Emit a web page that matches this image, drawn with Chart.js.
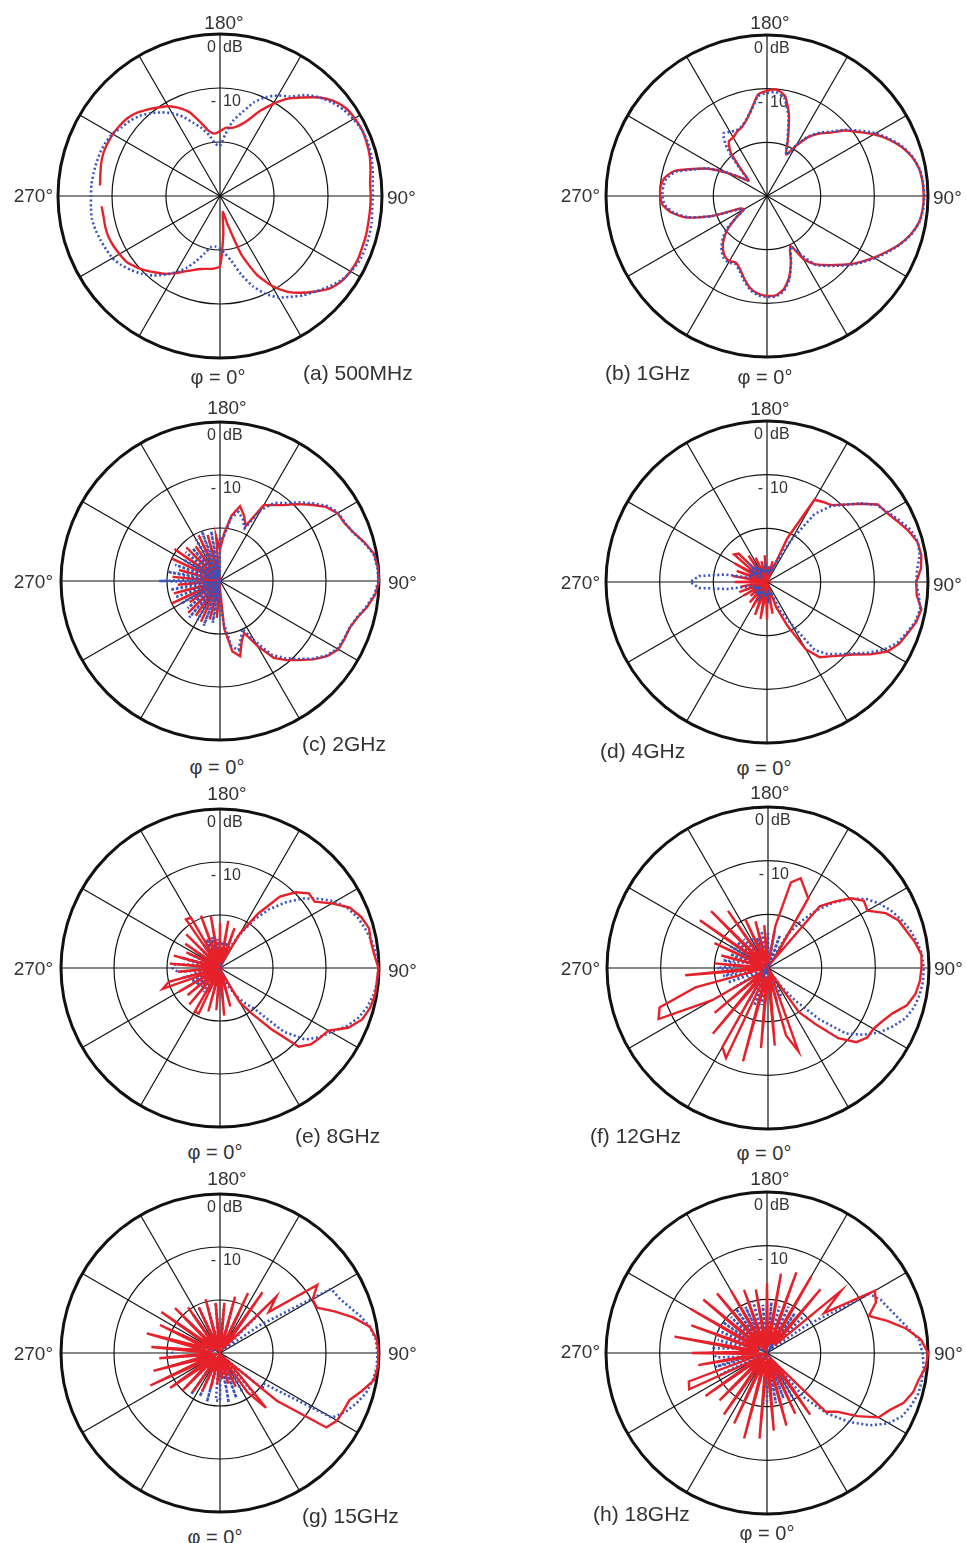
<!DOCTYPE html>
<html>
<head>
<meta charset="utf-8">
<script src="https://cdn.jsdelivr.net/npm/chart.js@4.4.1/dist/chart.umd.min.js"></script>
<style>
  body { margin: 0; background: #fff; }
  #page { position: relative; width: 966px; height: 1543px; font-family: "Liberation Sans", Arial, sans-serif; color: #333; }
  #page canvas { position: absolute; }
  .lbl { position: absolute; font-size: 19px; line-height: 1; white-space: nowrap; }
  .phi { font-size: 20px; }
  .cap { font-size: 21px; }
</style>
</head>
<body>
<div id="page"></div>
<script>
// azimuth angles (deg), 0 = bottom, counter-clockwise
const PHI = [0, 5, 10, 15, 20, 25, 30, 35, 40, 45, 50, 55,
  60, 65, 70, 75, 80, 85, 90, 95, 100, 105, 110, 115,
  120, 125, 130, 135, 140, 145, 150, 155, 160, 165, 170, 175,
  180, 185, 190, 195, 200, 205, 210, 215, 220, 225, 230, 235,
  240, 245, 250, 255, 260, 265, 270, 275, 280, 285, 290, 295,
  300, 305, 310, 315, 320, 325, 330, 335, 340, 345, 350, 355];

const RING_MIN = -30;
const RING_MAX = 0;
const RING_STEP = 10;

// gain in dB, one value per PHI entry (red solid / blue dotted)
const redA = [-17.0, -23.0, -27.0, -24.5, -18.5, -14.0, -10.8, -8.4, -6.6, -5.0, -3.4, -2.5,
  -2.1, -1.9, -2.0, -2.0, -2.1, -2.1, -2.1, -2.1, -1.7, -1.3, -1.1, -1.0,
  -1.2, -1.6, -2.6, -4.2, -6.2, -8.0, -10.3, -12.7, -15.1, -16.5, -17.2, -17.3,
  -18.0, -18.4, -17.7, -15.8, -13.5, -12.0, -10.8, -10.0, -9.1, -8.2, -7.6, -7.3,
  -7.1, -7.0, -7.0, -7.2, -7.5, -7.7, null, -8.0, -8.1, -8.0, -8.0, -8.2,
  -8.5, -8.8, -9.6, -10.5, -11.5, -12.4, -13.5, -14.6, -15.4, -16.0, -16.3, -16.5];
const blueA = [-20.2, -19.3, -17.8, -15.0, -12.2, -10.0, -8.3, -7.2, -6.0, -5.0, -3.8, -2.7,
  -2.0, -1.5, -1.4, -1.4, -1.5, -1.7, -1.7, -1.6, -1.3, -1.0, -0.9, -1.0,
  -1.5, -2.1, -3.0, -4.1, -5.6, -7.5, -8.5, -9.8, -11.5, -13.9, -15.8, -18.5,
  -20.7, -20.3, -18.6, -17.0, -15.6, -13.8, -12.3, -11.1, -10.0, -9.0, -8.3, -7.8,
  -7.0, -6.6, -6.4, -6.3, -6.2, -6.1, -6.1, -6.0, -5.9, -6.1, -6.4, -6.7,
  -7.0, -7.7, -8.6, -9.6, -10.8, -12.2, -13.7, -15.3, -17.2, -19.0, -20.4, -20.6];

const redB = [-11.4, -11.4, -12.3, -14.2, -17.0, -19.8, -16.5, -14.5, -13.2, -11.8, -10.2, -8.6,
  -7.0, -5.4, -3.7, -2.3, -1.3, -0.9, -0.8, -0.9, -1.2, -2.0, -3.3, -5.0,
  -7.0, -9.2, -11.0, -13.3, -14.8, -16.6, -19.2, -21.5, -18.5, -14.2, -11.0, -10.1,
  -10.4, -11.0, -13.5, -15.3, -16.3, -16.8, -17.4, -17.6, -19.5, -23.5, -25.5, -24.0,
  -21.4, -18.0, -15.3, -12.1, -10.6, -10.1, -10.1, -10.5, -12.0, -14.5, -19.0, -24.5,
  -25.0, -23.0, -20.5, -18.6, -17.2, -16.3, -16.0, -16.3, -15.4, -13.9, -12.5, -11.7];
const blueB = [-11.2, -11.2, -12.0, -13.9, -16.8, -19.5, -17.5, -14.4, -13.0, -11.6, -10.0, -8.4,
  -6.8, -5.2, -3.6, -2.2, -1.2, -0.8, -0.7, -0.8, -1.1, -1.9, -3.1, -4.8,
  -6.6, -8.8, -10.8, -13.0, -14.6, -16.4, -19.0, -21.5, -18.8, -14.6, -11.5, -10.6,
  -10.8, -11.3, -13.6, -15.2, -16.2, -16.5, -16.2, -15.8, -18.5, -23.0, -25.5, -24.0,
  -21.0, -17.8, -15.5, -12.5, -11.0, -10.6, -10.5, -10.9, -12.3, -14.8, -19.0, -24.0,
  -25.0, -23.0, -20.0, -18.2, -16.8, -15.9, -15.7, -16.0, -15.1, -13.6, -12.2, -11.4];

const redC = [-28.5, -21.0, -16.5, -15.3, -18.0, -19.2, -15.8, -12.3, -10.5, -8.9, -7.0, -5.3,
  -4.2, -4.1, -4.0, -3.2, -1.8, -0.6, 0.0, -0.1, -0.5, -1.8, -3.2, -4.1,
  -4.4, -5.6, -7.6, -9.5, -11.3, -12.5, -13.5, -18.5, -16.8, -15.4, -17.5, -21.0,
  -24.0, -21.5, -29.0, -21.0, -28.5, -20.5, -29.0, -22.0, -29.5, -21.0, -28.5, -19.5,
  -29.0, -20.0, -29.5, -22.0, -29.0, -21.0, -29.0, -22.0, -29.5, -21.0, -28.5, -20.0,
  -29.0, -23.0, -29.5, -21.5, -29.0, -22.0, -28.5, -21.5, -29.5, -22.5, -29.0, -23.0];
const blueC = [-26.0, -22.0, -17.5, -16.5, -18.5, -20.0, -17.0, -13.0, -11.0, -9.2, -7.2, -5.5,
  -4.4, -4.2, -4.0, -3.3, -2.0, -0.8, -0.1, -0.2, -0.6, -1.9, -3.3, -4.0,
  -4.2, -5.3, -7.2, -9.0, -10.8, -12.0, -14.5, -19.0, -17.5, -16.5, -18.0, -21.5,
  -22.0, -29.0, -20.5, -28.5, -20.0, -28.0, -21.0, -29.0, -22.0, -29.0, -21.5, -28.5,
  -22.0, -29.0, -21.0, -28.5, -20.0, -27.0, -18.5, -27.0, -20.5, -28.5, -21.0, -29.0,
  -21.5, -28.5, -22.0, -29.0, -21.0, -28.5, -21.5, -29.0, -21.0, -28.0, -22.0, -28.5];

const redD = [-23.0, -29.0, -24.0, -29.5, -25.0, -21.0, -15.5, -12.9, -11.9, -10.6, -9.0, -6.5,
  -4.1, -2.8, -2.1, -1.2, -0.8, -2.0, -2.2, -1.2, -0.8, -1.0, -2.0, -3.2,
  -4.2, -4.8, -7.3, -9.6, -11.3, -11.8, -12.3, -21.0, -29.0, -26.0, -29.5, -27.0,
  -29.0, -25.0, -29.5, -26.0, -29.0, -25.0, -29.0, -24.0, -28.5, -22.5, -22.0, -28.0,
  -23.0, -28.5, -24.0, -29.0, -23.5, -29.0, -24.0, -29.5, -25.0, -29.0, -24.5, -29.5,
  -25.0, -29.0, -26.0, -29.5, -25.0, -29.0, -24.5, -28.5, -23.5, -28.5, -23.0, -28.0];
const blueD = [-28.0, -27.0, -28.0, -27.5, -28.0, -24.0, -21.0, -14.5, -12.5, -11.0, -9.3, -7.0,
  -4.8, -3.2, -2.3, -1.4, -1.0, -1.6, -2.2, -1.9, -1.1, -0.9, -1.5, -2.8,
  -4.0, -5.0, -7.2, -9.6, -11.6, -14.5, -21.0, -26.0, -28.0, -27.0, -28.0, -27.5,
  -28.0, -27.0, -28.0, -27.5, -28.0, -27.0, -28.0, -27.0, -28.0, -26.5, -28.0, -27.0,
  -28.0, -26.5, -27.0, -27.0, -22.0, -17.3, -15.7, -17.3, -22.5, -27.0, -28.0, -27.0,
  -28.0, -27.5, -28.0, -27.0, -28.0, -27.5, -28.0, -27.0, -28.0, -27.5, -28.0, -27.0];

const redE = [-29.0, -21.0, -29.0, -22.5, -29.0, -28.5, -22.5, -19.5, -15.0, -9.0, -7.6, -7.0,
  -6.4, -3.3, -1.5, -0.7, -0.3, -0.3, -0.1, -0.8, -1.1, -0.9, -1.7, -3.0,
  -5.6, -8.2, -8.1, -9.8, -12.4, -17.5, -22.5, -28.5, -22.0, -29.0, -21.0, -29.0,
  -21.5, -29.0, -20.0, -28.5, -19.5, -29.0, -19.0, -18.8, -29.0, -21.0, -29.5, -22.0,
  -29.0, -23.0, -29.5, -21.0, -28.5, -20.5, -29.0, -22.0, -29.5, -20.0, -18.5, -29.0,
  -21.0, -29.5, -22.0, -29.0, -21.0, -29.5, -20.5, -20.5, -29.5, -21.5, -29.0, -22.0];
const blueE = [-27.5, -25.0, -29.0, -25.5, -29.0, -26.0, -24.0, -22.0, -20.0, -13.0, -9.0, -7.2,
  -5.8, -3.8, -2.3, -1.3, -0.6, -0.2, -0.1, -0.4, -0.9, -1.6, -2.3, -3.4,
  -4.9, -7.2, -9.6, -12.5, -15.5, -19.0, -23.0, -26.0, -29.0, -25.0, -29.0, -25.0,
  -29.0, -24.5, -29.0, -24.0, -29.0, -24.0, -29.0, -24.5, -29.0, -25.0, -29.0, -24.0,
  -29.0, -23.5, -28.5, -22.5, -27.0, -21.5, -21.0, -22.0, -27.0, -22.5, -28.5, -24.0,
  -29.0, -24.5, -29.0, -25.0, -29.0, -24.5, -29.0, -25.0, -29.0, -25.0, -29.0, -25.5];

const redF = [-28.5, -15.5, -28.0, -17.0, -13.5, -28.5, -29.0, -20.0, -16.5, -11.5, -8.5, -7.4,
  -7.3, -6.5, -5.3, -3.2, -2.1, -1.6, -1.4, -1.3, -2.2, -3.3, -4.1, -5.8,
  -8.6, -8.2, -9.8, -12.5, -15.0, -28.0, -15.0, -13.8, -12.2, -13.5, -22.0, -29.0,
  -29.0, -22.0, -29.0, -21.0, -28.5, -20.0, -29.0, -17.0, -28.5, -15.0, -28.0, -14.5,
  -29.0, -19.0, -29.0, -21.0, -29.5, -20.0, -28.0, -14.5, -29.0, -16.0, -8.5, -7.5,
  -18.0, -29.0, -17.0, -28.5, -14.0, -28.0, -13.0, -11.5, -28.5, -12.0, -28.0, -15.0];
const blueF = [-29.0, -24.0, -29.0, -23.5, -29.0, -24.0, -29.0, -26.0, -22.0, -16.5, -11.0, -8.3,
  -6.0, -4.3, -2.7, -1.8, -1.3, -1.0, -1.0, -1.2, -1.8, -2.6, -3.6, -4.7,
  -6.0, -7.6, -9.9, -12.8, -16.0, -19.5, -23.0, -29.0, -23.5, -29.0, -23.0, -29.0,
  -23.5, -29.0, -23.0, -29.0, -24.0, -29.0, -23.5, -29.0, -23.0, -29.0, -22.5, -28.5,
  -22.0, -28.0, -22.5, -27.0, -21.5, -25.0, -20.5, -25.0, -21.5, -27.0, -22.0, -28.5,
  -22.5, -29.0, -23.0, -29.0, -22.5, -29.0, -23.0, -29.0, -22.5, -29.0, -23.0, -29.0];

const redG = [-29.0, -25.0, -29.0, -24.0, -29.0, -23.0, -29.0, -21.0, -16.5, -28.0, -16.0, -5.5,
  -4.5, -4.3, -4.0, -2.3, -0.5, -0.1, -0.1, -0.3, -1.3, -4.0, -7.0, -9.8,
  -9.8, -7.6, -18.0, -15.0, -28.0, -16.0, -28.5, -17.5, -29.0, -19.0, -29.0, -20.5,
  -29.0, -20.5, -29.0, -19.5, -28.5, -20.5, -29.0, -19.5, -28.5, -18.0, -28.0, -16.5,
  -28.5, -17.5, -27.0, -15.7, -27.0, -17.0, -28.5, -18.5, -28.0, -17.0, -27.5, -15.5,
  -28.0, -18.5, -27.0, -20.0, -29.0, -21.0, -29.0, -22.0, -29.0, -23.0, -29.0, -24.0];
const blueG = [-21.0, -29.0, -20.5, -29.0, -21.0, -29.0, -21.5, -28.5, -19.5, -28.0, -19.5, -20.0,
  -5.6, -3.8, -2.5, -1.4, -0.7, -0.3, -0.3, -0.5, -1.3, -2.7, -4.2, -5.3,
  -5.8, -21.0, -29.0, -19.5, -29.0, -21.0, -29.0, -21.5, -29.0, -20.5, -29.0, -21.0,
  -29.0, -20.5, -29.0, -21.0, -29.0, -20.5, -29.0, -21.0, -29.0, -20.5, -29.0, -20.5,
  -29.0, -21.0, -29.0, -20.0, -28.5, -20.5, -21.0, -20.5, -28.5, -20.5, -29.0, -21.0,
  -29.0, -20.5, -29.0, -21.0, -29.0, -20.5, -29.0, -21.0, -29.0, -20.5, -29.0, -21.0];

const redH = [-28.0, -15.5, -28.0, -16.0, -28.5, -17.5, -28.0, -16.0, -27.5, -14.5, -13.0, -9.5,
  -6.0, -4.8, -2.9, -1.8, -1.3, -0.3, 0.0, -1.2, -3.7, -6.8, -9.8, -7.6,
  -6.8, -17.0, -12.0, -28.0, -14.5, -28.0, -13.5, -28.0, -14.0, -28.5, -15.0, -28.0,
  -17.0, -28.0, -18.0, -28.5, -17.5, -28.0, -16.5, -28.0, -15.5, -28.0, -14.5, -28.0,
  -13.5, -28.0, -15.0, -28.5, -12.5, -27.0, -16.0, -28.0, -17.0, -28.0, -14.5, -14.0,
  -28.0, -16.0, -28.5, -17.5, -28.0, -16.0, -28.5, -15.5, -28.0, -13.5, -28.5, -14.0];
const blueH = [-21.0, -29.0, -20.5, -28.5, -21.0, -29.0, -20.0, -28.5, -19.0, -14.0, -10.0, -6.5,
  -3.8, -2.2, -1.4, -0.8, -0.7, -0.7, -1.0, -1.6, -3.3, -4.7, -5.8, -6.6,
  -8.0, -21.0, -29.0, -20.0, -28.5, -21.0, -29.0, -20.5, -28.5, -21.0, -29.0, -20.5,
  -29.0, -21.0, -29.0, -20.0, -28.5, -20.5, -29.0, -20.0, -28.5, -20.5, -29.0, -20.0,
  -28.0, -20.0, -27.5, -20.5, -25.0, -20.0, -20.0, -20.5, -26.0, -20.0, -28.0, -20.5,
  -28.5, -20.0, -29.0, -20.5, -29.0, -20.0, -28.5, -20.5, -29.0, -21.0, -29.0, -20.5];

const CAPTIONS = ['(a) 500MHz', '(b) 1GHz', '(c) 2GHz', '(d) 4GHz',
  '(e) 8GHz', '(f) 12GHz', '(g) 15GHz', '(h) 18GHz'];

// layout of each panel on the page (centre, radius, text anchors)
const panels = [
  { red: redA, blue: blueA, tension: 0.2, redOnTop: false, cx: 220, cy: 196, R: 162, t180: [224, 22], t90: [387, 197], t270: [53, 195], phi: [218, 377], cap: [303, 372] },
  { red: redB, blue: blueB, tension: 0.2, redOnTop: false, cx: 767, cy: 196, R: 161, t180: [770, 22], t90: [933, 197], t270: [600, 195], phi: [765, 377], cap: [605, 372] },
  { red: redC, blue: blueC, tension: 0, redOnTop: false, cx: 220, cy: 581, R: 159, t180: [227, 407], t90: [388, 582], t270: [53, 581], phi: [217, 767], cap: [302, 743] },
  { red: redD, blue: blueD, tension: 0, redOnTop: false, cx: 767, cy: 582, R: 161, t180: [770, 408], t90: [933, 584], t270: [600, 582], phi: [764, 768], cap: [600, 750] },
  { red: redE, blue: blueE, tension: 0, redOnTop: true, cx: 220, cy: 968, R: 159, t180: [227, 793], t90: [388, 970], t270: [53, 968], phi: [215, 1152], cap: [295, 1135] },
  { red: redF, blue: blueF, tension: 0, redOnTop: true, cx: 768, cy: 968, R: 161, t180: [770, 792], t90: [934, 968], t270: [600, 968], phi: [764, 1153], cap: [590, 1135] },
  { red: redG, blue: blueG, tension: 0, redOnTop: true, cx: 220, cy: 1353, R: 159, t180: [227, 1178], t90: [388, 1353], t270: [53, 1353], phi: [215, 1537], cap: [302, 1515] },
  { red: redH, blue: blueH, tension: 0, redOnTop: true, cx: 767, cy: 1353, R: 161, t180: [770, 1178], t90: [934, 1353], t270: [600, 1351], phi: [767, 1533], cap: [593, 1513] },
];

const page = document.getElementById('page');

// radar goes clockwise from the top, so start at 180 deg and walk downwards
const chartPhi = PHI.map((_, k) => PHI[(36 - k + 72) % 72]);
const toChart = series => chartPhi.map(p => series[PHI.indexOf(p)]);

const addText = (text, x, y, align, cls) => {
  const el = document.createElement('div');
  el.className = 'lbl ' + (cls || '');
  el.textContent = text;
  const tx = align === 'center' ? '-50%' : (align === 'right' ? '-100%' : '0');
  el.style.left = x + 'px';
  el.style.top = y + 'px';
  el.style.transform = `translate(${tx}, -50%)`;
  page.appendChild(el);
};

// "0 dB" and "- 10" written just inside their rings, split by the vertical spoke
const ringLabels = {
  id: 'ringLabels',
  beforeDatasetsDraw(chart) {
    const r = chart.scales.r;
    const ctx = chart.ctx;
    ctx.save();
    ctx.font = '16px "Liberation Sans", Arial, sans-serif';
    ctx.fillStyle = '#333';
    ctx.textBaseline = 'middle';
    [[0, '0', 'dB'], [-10, '-', '10']].forEach(([v, left, right]) => {
      const y = r.yCenter - r.getDistanceFromCenterForValue(v) + 14;
      ctx.textAlign = 'right';
      ctx.fillText(left, r.xCenter - 4, y);
      ctx.textAlign = 'left';
      ctx.fillText(right, r.xCenter + 3, y);
    });
    ctx.restore();
  }
};

panels.forEach((p, i) => {
  const size = 2 * p.R + 20;
  const canvas = document.createElement('canvas');
  canvas.width = size;
  canvas.height = size;
  canvas.style.left = (p.cx - size / 2) + 'px';
  canvas.style.top = (p.cy - size / 2) + 'px';
  page.appendChild(canvas);

  new Chart(canvas.getContext('2d'), {
    type: 'radar',
    data: {
      labels: chartPhi.map(a => a + '°'),
      datasets: [
        {
          label: 'dotted',
          data: toChart(p.blue),
          borderColor: '#3852bd',
          borderWidth: 2.6,
          borderDash: [2, 2.6],
          fill: false,
          pointRadius: 0,
          tension: p.tension,
          spanGaps: false,
          order: p.redOnTop ? 1 : 0
        },
        {
          label: 'solid',
          data: toChart(p.red),
          borderColor: '#e6212a',
          borderWidth: 2.4,
          fill: false,
          pointRadius: 0,
          tension: p.tension,
          spanGaps: false,
          order: p.redOnTop ? 0 : 1
        }
      ]
    },
    options: {
      responsive: false,
      animation: false,
      devicePixelRatio: 1,
      layout: { padding: 10 },
      plugins: { legend: { display: false }, tooltip: { enabled: false } },
      scales: {
        r: {
          min: RING_MIN,
          max: RING_MAX,
          startAngle: 0,
          ticks: { display: false, stepSize: RING_STEP },
          pointLabels: { display: false },
          grid: {
            circular: true,
            color: '#111',
            lineWidth: ctx => ctx.tick.value === RING_MAX ? 3 : (ctx.tick.value === RING_MIN ? 0 : 1.2)
          },
          angleLines: {
            color: '#111',
            lineWidth: ctx => ctx.index % 6 === 0 ? 1.2 : 0
          }
        }
      }
    },
    plugins: [ringLabels]
  });

  addText('180°', p.t180[0], p.t180[1], 'center');
  addText('90°', p.t90[0], p.t90[1], 'left');
  addText('270°', p.t270[0], p.t270[1], 'right');
  addText('φ = 0°', p.phi[0], p.phi[1], 'center', 'phi');
  addText(CAPTIONS[i], p.cap[0], p.cap[1], 'left', 'cap');
});
</script>
</body>
</html>
